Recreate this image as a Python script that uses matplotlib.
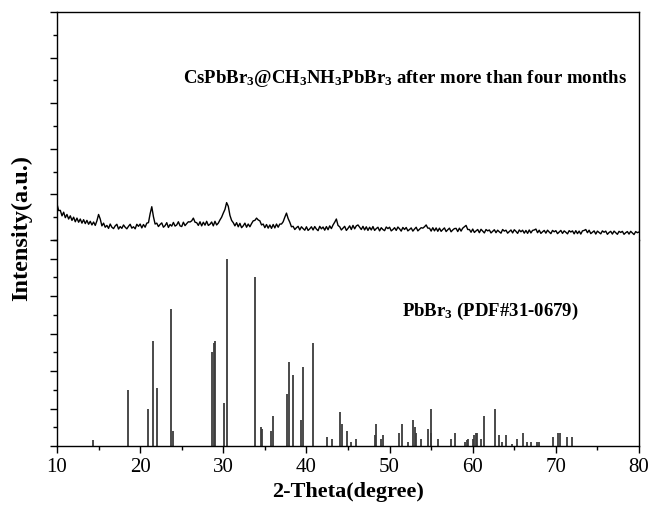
import numpy as np
import matplotlib
matplotlib.use("Agg")
import matplotlib.pyplot as plt
from matplotlib.ticker import MultipleLocator

# ---------------- data ----------------
two_theta = np.linspace(10, 80, 351)  # 0.2 degree steps
intensity = [
    15.8, 12.9, 13.0, 10.6, 12.2, 9.8, 11.2, 9.2, 10.6, 8.6,
    10.0, 8.0, 9.6, 7.8, 9.2, 7.4, 8.9, 7.2, 8.6, 6.9,
    8.2, 6.6, 7.9, 6.4, 8.4, 11.2, 9.2, 6.2, 7.4, 5.6,
    6.4, 5.1, 7.0, 5.6, 5.0, 6.2, 6.9, 4.8, 5.9, 5.1,
    6.6, 5.6, 4.9, 6.0, 6.9, 5.2, 5.8, 4.9, 6.9, 6.0,
    7.0, 5.3, 6.8, 5.6, 7.4, 7.6, 11.5, 14.6, 10.2, 7.0,
    7.4, 5.9, 6.8, 7.5, 5.6, 6.3, 7.6, 5.5, 6.8, 6.1,
    7.7, 6.1, 6.6, 8.0, 6.2, 5.9, 7.8, 6.3, 7.2, 8.0,
    7.9, 8.4, 9.6, 7.8, 7.6, 6.4, 8.0, 6.2, 7.8, 6.5,
    8.2, 6.4, 6.9, 7.9, 6.2, 8.2, 6.6, 7.4, 8.8, 10.0,
    11.8, 13.4, 16.4, 14.8, 10.8, 8.6, 7.6, 6.2, 7.6, 5.8,
    7.3, 5.4, 6.2, 7.4, 5.6, 7.0, 5.8, 7.2, 8.4, 8.6,
    9.6, 8.8, 8.4, 6.6, 7.0, 5.4, 6.8, 5.2, 6.6, 5.1,
    6.8, 5.3, 7.0, 5.6, 7.0, 7.0, 8.0, 10.0, 11.8, 9.4,
    7.8, 5.8, 6.0, 4.6, 5.4, 6.0, 4.4, 5.8, 5.0, 4.3,
    5.8, 4.2, 4.9, 5.8, 4.4, 5.9, 4.8, 4.1, 6.0, 4.9,
    5.7, 4.3, 5.9, 4.5, 6.2, 5.0, 6.6, 7.8, 9.2, 6.4,
    5.8, 4.4, 5.2, 6.0, 4.2, 5.1, 6.2, 4.6, 6.4, 4.9,
    6.2, 6.6, 5.6, 4.6, 6.0, 4.4, 5.8, 4.2, 5.6, 4.4,
    5.9, 4.2, 5.0, 5.6, 4.0, 5.4, 4.6, 4.1, 5.7, 5.0,
    5.6, 4.0, 4.6, 5.4, 4.2, 5.7, 4.9, 3.9, 5.5, 4.6,
    5.5, 4.0, 4.6, 5.3, 3.9, 4.8, 5.6, 4.0, 4.7, 5.4,
    5.2, 5.8, 6.6, 5.2, 5.2, 3.9, 5.4, 4.0, 5.3, 3.8,
    5.2, 3.8, 4.6, 5.3, 3.7, 4.5, 5.2, 3.6, 4.4, 5.0,
    5.1, 3.7, 5.2, 3.9, 5.2, 5.8, 6.4, 4.6, 4.6, 3.4,
    4.8, 3.3, 4.0, 4.6, 3.2, 4.7, 3.9, 3.1, 4.6, 4.0,
    4.4, 3.1, 3.8, 4.5, 3.2, 4.3, 3.6, 3.0, 4.6, 3.9,
    4.3, 3.0, 3.7, 4.4, 3.1, 4.5, 3.8, 2.9, 4.4, 3.6,
    4.3, 3.0, 4.2, 2.9, 4.4, 3.1, 4.2, 4.4, 4.8, 3.2,
    4.3, 2.9, 3.6, 4.2, 3.0, 4.3, 3.5, 2.8, 4.2, 3.6,
    4.1, 2.8, 3.5, 4.2, 2.9, 4.0, 3.4, 2.7, 4.1, 3.5,
    4.0, 2.7, 4.1, 2.8, 3.9, 2.6, 4.0, 4.2, 4.6, 3.2,
    4.3, 2.8, 3.4, 4.0, 2.6, 3.9, 3.3, 2.7, 4.0, 3.4,
    3.9, 2.5, 3.3, 3.8, 2.6, 3.9, 3.2, 2.5, 3.8, 3.3,
    3.8, 2.5, 3.2, 3.7, 2.6, 3.8, 3.1, 2.4, 3.7, 3.2,
    3.5,
]

pdf_pos = [14.37, 18.54, 20.90, 21.58, 21.98, 23.66, 23.99, 28.68, 28.88, 29.04,
           30.12, 30.49, 33.85, 34.57, 34.70, 35.74, 35.94, 37.62, 37.94, 38.35,
           39.30, 39.63, 40.83, 42.50, 43.04, 44.04, 44.32, 44.92, 45.32, 45.96,
           48.25, 48.37, 49.00, 49.20, 51.10, 51.45, 52.25, 52.85, 53.00, 53.15,
           53.80, 54.60, 54.96, 55.03, 55.78, 57.34, 57.86, 59.07, 59.27, 59.47,
           59.99, 60.16, 60.40, 60.56, 61.05, 61.38, 62.70, 63.15, 63.55, 64.00,
           64.70, 65.37, 66.00, 66.50, 67.00, 67.70, 68.00, 69.70, 70.30, 70.50,
           71.37, 71.97]
pdf_int = [3, 30, 20, 56, 31, 73, 8, 50, 55, 56,
           23, 100, 90, 10, 9, 8, 16, 28, 45, 38,
           14, 42, 55, 5, 4, 18, 12, 8, 2, 4,
           6, 12, 4, 6, 7, 12, 2, 14, 10, 7,
           4, 9, 7, 20, 4, 4, 7, 2, 3, 4,
           4, 6, 7, 7, 4, 16, 20, 6, 2, 6,
           1, 4, 7, 2, 2, 2, 2, 5, 7, 7,
           5, 5]

x_ticks = [10, 20, 30, 40, 50, 60, 70, 80]
label_top = r"CsPbBr$_\mathbf{3}$@CH$_\mathbf{3}$NH$_\mathbf{3}$PbBr$_\mathbf{3}$ after more than four months"
label_pdf = r"PbBr$_\mathbf{3}$ (PDF#31-0679)"

# ---------------- figure ----------------
plt.rcParams['font.family'] = ['Liberation Serif', 'DejaVu Serif']
plt.rcParams['mathtext.fontset'] = 'custom'
plt.rcParams['mathtext.rm'] = 'Liberation Serif:bold'
plt.rcParams['mathtext.bf'] = 'Liberation Serif:bold'
plt.rcParams['mathtext.it'] = 'Liberation Serif:bold'

W, H = 652, 508
fig = plt.figure(figsize=(W / 100, H / 100), dpi=100)
L, R, T, B, S = 57, 639, 12, 446, 240
ax_top = fig.add_axes([L / W, 1 - S / H, (R - L) / W, (S - T) / H])
ax_bot = fig.add_axes([L / W, 1 - B / H, (R - L) / W, (B - S) / H])

ax_top.plot(two_theta, intensity, color='black', lw=1.0)
ax_top.set_ylim(0, 100)
ax_top.set_xlim(10, 80)
ax_top.spines['bottom'].set_visible(False)
ax_top.set_xticks([])
ax_top.yaxis.set_major_locator(MultipleLocator(20))
ax_top.yaxis.set_minor_locator(MultipleLocator(10))
ax_top.set_yticklabels([])
ax_top.text(25.16, 71, label_top, fontsize=13.5, fontweight='bold',
            ha='left', va='center')

ax_bot.vlines(pdf_pos, 0, pdf_int, color='#3c3c3c', lw=1.3)
ax_bot.set_ylim(0, 110)
ax_bot.set_xlim(10, 80)
ax_bot.spines['top'].set_visible(False)
ax_bot.set_xticks(x_ticks)
ax_bot.xaxis.set_minor_locator(MultipleLocator(5))
ax_bot.yaxis.set_major_locator(MultipleLocator(20))
ax_bot.yaxis.set_minor_locator(MultipleLocator(10))
ax_bot.set_yticklabels([])
ax_bot.text(51.46, 71.7, label_pdf, fontsize=13.5, fontweight='bold',
            ha='left', va='center')

for ax in (ax_top, ax_bot):
    for sp in ax.spines.values():
        sp.set_linewidth(1.0)
    ax.tick_params(axis='both', which='major', direction='out', length=5,
                   width=1.0, labelsize=15, right=False, top=False)
    ax.tick_params(axis='both', which='minor', direction='out', length=3,
                   width=1.0, right=False, top=False)

ax_bot.set_xlabel('2-Theta(degree)', fontsize=16, fontweight='bold', labelpad=4)
fig.text(22 / W, 1 - 228 / H, 'Intensity(a.u.)', rotation=90, fontsize=17.5,
         fontweight='bold', ha='center', va='center')

fig.savefig('out.png', dpi=100)
